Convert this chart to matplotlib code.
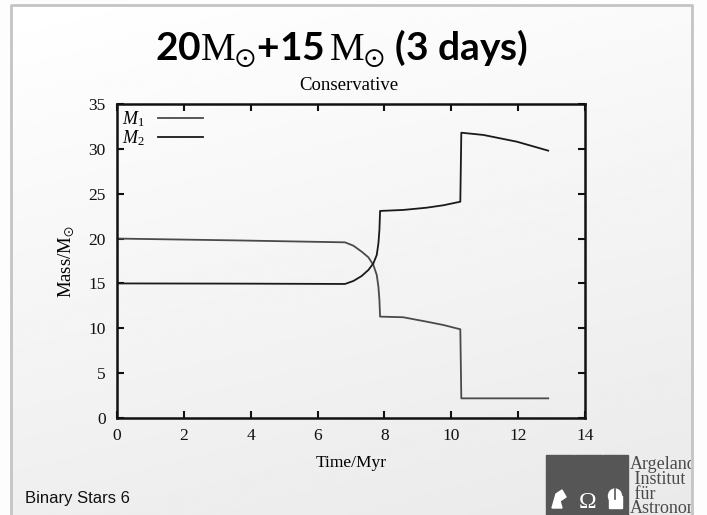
import numpy as np
import matplotlib.pyplot as plt
from matplotlib.patches import Rectangle, Polygon, Ellipse
from matplotlib.transforms import Bbox, TransformedBbox

plt.rcParams['mathtext.fontset'] = 'custom'
plt.rcParams['mathtext.rm'] = 'Liberation Serif'
plt.rcParams['mathtext.it'] = 'Liberation Serif:italic'
plt.rcParams['mathtext.bf'] = 'Lato:bold'
plt.rcParams['mathtext.fallback'] = 'stix'
plt.rcParams['font.family'] = ['Liberation Serif', 'DejaVu Serif']

# Evolution of the two component masses (Myr, solar masses)
time_myr = [0.0, 3.5, 6.82, 7.07, 7.32, 7.52, 7.67, 7.77, 7.82, 7.85, 7.87,
            8.56, 9.26, 9.76, 10.27, 10.30, 10.96, 11.96, 12.9]
mass_1 = [20.0, 19.8, 19.58, 19.21, 18.54, 17.91, 17.06, 15.94, 14.64, 13.15, 11.3,
          11.23, 10.74, 10.37, 9.89, 2.19, 2.19, 2.19, 2.19]
mass_2 = [15.0, 14.98, 14.94, 15.27, 15.83, 16.5, 17.24, 18.17, 19.47, 20.96, 23.08,
          23.19, 23.44, 23.71, 24.11, 31.8, 31.55, 30.8, 29.8]

x_ticks = [0, 2, 4, 6, 8, 10, 12, 14]
y_ticks = [0, 5, 10, 15, 20, 25, 30, 35]

W, H = 707, 515
fig = plt.figure(figsize=(W / 100, H / 100), dpi=100)
fig.patch.set_facecolor('#fdfdfd')

# Slide background in pixel coordinates
bg = fig.add_axes([0, 0, 1, 1], zorder=-5)
bg.set_xlim(0, W)
bg.set_ylim(H, 0)
bg.axis('off')
yy, xx = np.mgrid[0:1:200j, 0:1:200j]
shade = 1.0 - 0.085 * (0.75 * yy + 0.25 * xx)
bg.imshow(shade, cmap='gray', vmin=0, vmax=1, extent=(11, 692, H, 5),
          aspect='auto', interpolation='bilinear', zorder=0)
bg.plot([11, 11, 692, 692], [H, 5, 5, H], color='#c4c4c4', lw=2, zorder=1)
slide_box = TransformedBbox(Bbox([[0, 0], [691 / W, 1]]), fig.transFigure)

# Institute logo
for x0, x1 in [(546, 573), (574, 601.5), (602.5, 628)]:
    bg.add_patch(Rectangle((x0, 455), x1 - x0, H - 455, color='#565656', zorder=2))
bg.text(587.5, 508, 'Ω', color='white', fontsize=17, ha='center', va='baseline',
        family='Liberation Serif', zorder=3)
bg.add_patch(Polygon([[552, 508], [556, 494], [562, 490], [566, 497], [560, 501], [562, 508]],
                     closed=True, color='white', zorder=3))
bg.add_patch(Ellipse((615, 496), 13, 14, color='white', zorder=3))
bg.add_patch(Rectangle((608.5, 496), 13, 12, color='white', zorder=3))
bg.plot([615, 615], [489, 499], color='#565656', lw=1.2, zorder=4)
logo_text = bg.text(630, 456, 'Argelander\n Institut\n für\nAstronomie', fontsize=13,
                    family='Liberation Serif', color='#4a4a4a', va='top', ha='left',
                    linespacing=0.83, zorder=3)
logo_text.set_clip_box(slide_box)
logo_text.set_clip_on(True)

bg.text(25, 503, 'Binary Stars 6', fontsize=12, family='Liberation Sans',
        color='#111111', va='baseline')

# Title lines
fig.text(0.483, 1 - 60 / H,
         r'$\mathbf{20}\mathrm{M}_{\odot}\mathbf{+15}\,\mathrm{M}_{\odot}\ \mathbf{(3\ days)}$',
         fontsize=28, ha='center', va='baseline')
fig.text(0.493, 1 - 90.5 / H, 'Conservative', fontsize=13.5, ha='center', va='baseline')

# Mass plot
ax = fig.add_axes([117 / W, 1 - 418 / H, 468 / W, 314 / H])
ax.patch.set_alpha(0)
ax.plot(time_myr, mass_1, color='#4a4a4a', lw=1.3, label=r'$M_1$')
ax.plot(time_myr, mass_2, color='#1a1a1a', lw=1.3, label=r'$M_2$')
ax.set_xlim(0, 14)
ax.set_ylim(0, 35)
ax.set_xticks(x_ticks)
ax.set_yticks(y_ticks)
ax.tick_params(direction='in', length=5, width=1.5, top=True, right=True,
               labelsize=12.5, colors='#111111')
ax.tick_params(axis='x', pad=7)
ax.tick_params(axis='y', pad=8)
for s in ax.spines.values():
    s.set_linewidth(1.8)
    s.set_color('#111111')
ax.set_xlabel('Time/Myr', fontsize=12.5, labelpad=8)
ax.set_ylabel(r'Mass/$\mathrm{M}_{\odot}$', fontsize=13.5, labelpad=8)
ax.legend(loc='upper left', frameon=False, markerfirst=False, fontsize=13,
          handlelength=2.5, handletextpad=0.7, labelspacing=-0.05,
          borderaxespad=0.2, borderpad=0.1)

fig.savefig('out.png', dpi=100)
